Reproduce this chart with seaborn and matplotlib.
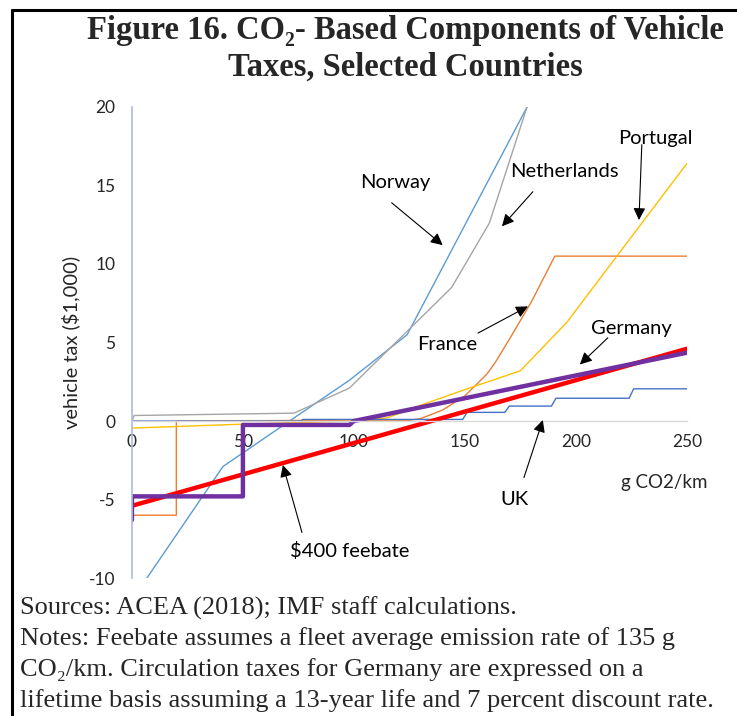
import numpy as np
import pandas as pd
import matplotlib.pyplot as plt
import seaborn as sns
from matplotlib.lines import Line2D

# CO2 emission rate (g/km) and tax component ($1,000)
norway_x = [0, 41, 71, 98, 124, 178]
norway_y = [-11.4, -2.9, 0.0, 2.6, 5.5, 20.0]

netherlands_x = [0, 1, 73, 98, 144, 161, 178]
netherlands_y = [0.0, 0.35, 0.5, 2.1, 8.5, 12.6, 20.0]

france_x = [0, 20, 20, 100, 125, 130, 140, 150, 160, 164, 170, 180, 190.5, 250]
france_y = [-6.0, -6.0, 0.0, 0.05, 0.05, 0.15, 0.7, 1.6, 3.0, 3.8, 5.2, 7.6, 10.5, 10.5]

portugal_x = [0, 50, 100, 115, 130, 150, 175, 196, 250]
portugal_y = [-0.45, -0.2, 0.0, 0.2, 1.0, 2.0, 3.2, 6.3, 16.4]

uk_x = [0, 76, 77, 149, 151, 168, 170, 189, 191, 224, 226, 250]
uk_y = [0.0, 0.0, 0.1, 0.1, 0.55, 0.55, 0.95, 0.95, 1.45, 1.45, 2.05, 2.05]

germany_x = [0, 0, 50, 50, 98, 100, 250]
germany_y = [-6.3, -4.8, -4.8, -0.25, -0.25, 0.0, 4.35]

feebate_x = [0, 250]
feebate_y = [-5.4, 4.6]

x_ticks = [0, 50, 100, 150, 200, 250]
y_ticks = [-10, -5, 0, 5, 10, 15, 20]

series = {
    'Norway': (norway_x, norway_y),
    'Netherlands': (netherlands_x, netherlands_y),
    'France': (france_x, france_y),
    'Portugal': (portugal_x, portugal_y),
    'UK': (uk_x, uk_y),
    'Feebate': (feebate_x, feebate_y),
    'Germany': (germany_x, germany_y),
}
styles = {
    'Norway': ('#5B9BD5', 1.0),
    'Netherlands': ('#A5A5A5', 1.0),
    'France': ('#ED7D31', 1.0),
    'Portugal': ('#FFC000', 1.0),
    'UK': ('#4472C4', 1.0),
    'Feebate': ('#FF0000', 3.2),
    'Germany': ('#7030A0', 3.2),
}

frames = []
for name, (xs, ys) in series.items():
    frames.append(pd.DataFrame({'co2': xs, 'tax': ys, 'country': name}))
df = pd.concat(frames, ignore_index=True)

sns.set_style('white')
plt.rcParams['font.family'] = ['Lato', 'DejaVu Sans']
plt.rcParams['axes.unicode_minus'] = False

fig = plt.figure(figsize=(7.37, 7.16), dpi=100)
ax = fig.add_axes([0.179, 0.1927, 0.753, 0.6579])

for name in series:
    color, lw = styles[name]
    sns.lineplot(data=df[df['country'] == name], x='co2', y='tax', sort=False,
                 estimator=None, color=color, linewidth=lw, ax=ax)

ax.set_xlim(0, 250)
ax.set_ylim(-10, 20)
ax.set_xticks(x_ticks)
ax.set_yticks(y_ticks)
ax.tick_params(length=0, labelsize=12.5, colors='#262626')
ax.tick_params(axis='y', pad=12)
ax.tick_params(axis='x', pad=9)
ax.set_xlabel('')
ax.set_ylabel('vehicle tax (\\$1,000)', fontsize=14.5, labelpad=6)

for s in ['top', 'right']:
    ax.spines[s].set_visible(False)
ax.spines['bottom'].set_position(('data', 0))
ax.spines['bottom'].set_color('#D9D9D9')
ax.spines['bottom'].set_linewidth(1.0)
ax.spines['left'].set_color('#A9BCDB')
ax.spines['left'].set_linewidth(1.2)

# labels and arrows
labels = [
    ('Norway', 118.5, 15.2, (117, 13.9), (140, 11.2)),
    ('Netherlands', 195, 15.9, (180.6, 14.6), (166.7, 12.4)),
    ('Portugal', 236, 18.0, (229.7, 17.6), (228.4, 12.8)),
    ('France', 141.9, 4.85, (155.9, 5.6), (178.4, 7.3)),
    ('Germany', 224.8, 5.9, (214.4, 5.3), (201.8, 3.6)),
    ('UK', 172.5, -5.0, (176.6, -3.6), (185.1, 0.06)),
    ('\\$400 feebate', 98.2, -8.3, (76.6, -7.1), (68.0, -2.8)),
]
for text, tx, ty, tail, head in labels:
    ax.text(tx, ty, text, fontsize=14.5, ha='center', va='center', color='black')
    ax.annotate('', xy=head, xytext=tail,
                arrowprops=dict(arrowstyle='-|>', color='black', lw=0.8,
                                mutation_scale=18, shrinkA=0, shrinkB=0))
ax.text(240, -3.9, 'g CO2/km', fontsize=13.5, ha='center', va='center')

serif = ['Liberation Serif', 'DejaVu Serif']
fig.text(0.55, 0.957, 'Figure 16. CO\u2082- Based Components of Vehicle',
         fontsize=23.5, fontweight='bold', family=serif, ha='center', va='center')
fig.text(0.55, 0.906, 'Taxes, Selected Countries',
         fontsize=23.5, fontweight='bold', family=serif, ha='center', va='center')

notes = [
    'Sources: ACEA (2018); IMF staff calculations.',
    'Notes: Feebate assumes a fleet average emission rate of 135 g',
    'CO\u2082/km. Circulation taxes for Germany are expressed on a',
    'lifetime basis assuming a 13-year life and 7 percent discount rate.',
]
for i, line in enumerate(notes):
    fig.text(0.027, 1 - (608 + 31 * i) / 716, line, fontsize=19, family=serif,
             ha='left', va='center')

# frame around the figure
fig.add_artist(Line2D([0.0163, 1.0], [0.9867, 0.9867], color='black', lw=2.2,
                      transform=fig.transFigure))
fig.add_artist(Line2D([0.0163, 0.0163], [0.0, 0.9867], color='black', lw=2.2,
                      transform=fig.transFigure))

fig.savefig('out.png', dpi=100)
